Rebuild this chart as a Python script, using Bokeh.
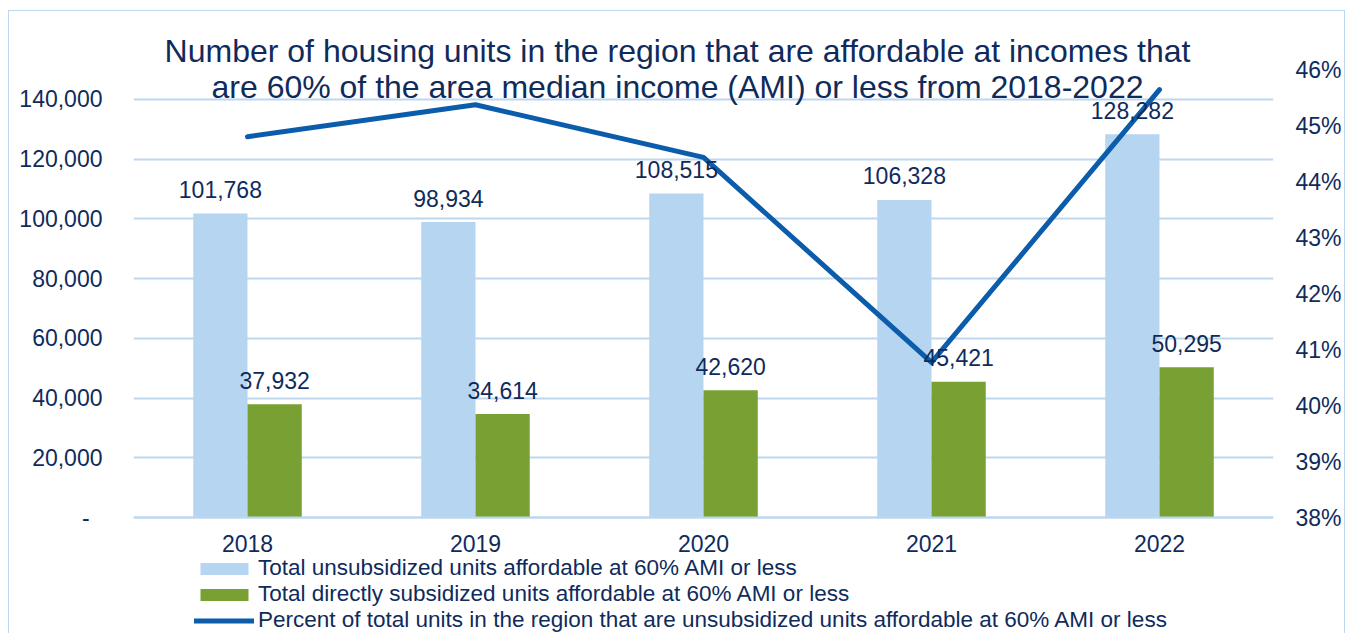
from bokeh.plotting import figure
from bokeh.models import (ColumnDataSource, FactorRange, Range1d, LinearAxis, CategoricalAxis,
                          FixedTicker, NumeralTickFormatter, PrintfTickFormatter, Legend,
                          LegendItem, Label)
from bokeh.transform import dodge
from bokeh.core.properties import value
from bokeh.embed import file_html
from bokeh.resources import INLINE

# ---- data ----
years = ["2018", "2019", "2020", "2021", "2022"]
unsubsidized = [101768, 98934, 108515, 106328, 128282]
subsidized = [37932, 34614, 42620, 45421, 50295]
pct_unsubsidized = [44.80, 45.37, 44.43, 40.77, 45.64]
left_ticks = [0, 20000, 40000, 60000, 80000, 100000, 120000, 140000]
right_ticks = [38, 39, 40, 41, 42, 43, 44, 45, 46]
title_lines = ["Number of housing units in the region that are affordable at incomes that",
               "are 60% of the area median income (AMI) or less from 2018-2022"]
legend_labels = ["Total unsubsidized units affordable at 60% AMI or less",
                 "Total directly subsidized units affordable at 60% AMI or less",
                 "Percent of total units in the region that are unsubsidized units affordable at 60% AMI or less"]

FONT = "Liberation Sans"
TXT = "#0F2B5B"
GRID = "#BDD7EE"
BLUE_BAR = "#B6D5F1"
GREEN_BAR = "#78A033"
LINE = "#0B5CAB"

# ---- layout geometry (page pixels) ----
MARGIN_LEFT, MARGIN_TOP = 9, 11
W_FIG, H_FIG = 1335, 622
PLOT_LEFT, PLOT_RIGHT = 133, 1273          # Excel plot area, page x
Y_ZERO, Y_TOP = 517, 69                    # page y of axis minimum and maximum
L_MAX, R_MIN, R_MAX = 150000, 38, 46       # axis extents of the Excel plot area
px = (Y_ZERO - Y_TOP)
canvas_top, canvas_bot = MARGIN_TOP, MARGIN_TOP + H_FIG

def left_val(page_y):
    return (Y_ZERO - page_y) / px * L_MAX

def right_val(page_y):
    return R_MIN + (Y_ZERO - page_y) / px * (R_MAX - R_MIN)

src = ColumnDataSource(dict(
    year=years,
    unsub=unsubsidized,
    sub=subsidized,
    pct=pct_unsubsidized,
    unsub_lbl=[f"{v:,}" for v in unsubsidized],
    sub_lbl=[f"{v:,}" for v in subsidized],
))

p = figure(width=W_FIG, height=H_FIG, x_range=FactorRange(*years),
           y_range=Range1d(left_val(canvas_bot), left_val(canvas_top)),
           x_axis_location=None,
           output_backend="svg", toolbar_location=None,
           min_border_left=PLOT_LEFT - MARGIN_LEFT,
           min_border_right=MARGIN_LEFT + W_FIG - PLOT_RIGHT,
           min_border_top=0, min_border_bottom=0)
p.extra_y_ranges = {"pct": Range1d(right_val(canvas_bot), right_val(canvas_top))}
p.outline_line_color = None
p.background_fill_color = "white"
p.border_fill_color = "white"
p.styles = {"outline": "1.5px solid #BDD7EE",
            "margin-left": f"{MARGIN_LEFT}px", "margin-top": f"{MARGIN_TOP}px"}

BW = 0.238
r_unsub = p.vbar(x=dodge("year", -0.119, range=p.x_range), top="unsub", width=BW, source=src,
                 fill_color=BLUE_BAR, line_color=None)
r_sub = p.vbar(x=dodge("year", 0.119, range=p.x_range), top="sub", width=BW, source=src,
               fill_color=GREEN_BAR, line_color=None)

r_line = p.line(x="year", y="pct", source=src, y_range_name="pct",
                line_color=LINE, line_width=5, line_cap="round", line_join="round")

p.text(x=dodge("year", -0.119, range=p.x_range), y="unsub", text="unsub_lbl", source=src,
       text_font=value(FONT), text_font_size="23px", text_color=TXT,
       text_align="center", text_baseline="alphabetic", y_offset=-24)
p.text(x=dodge("year", 0.119, range=p.x_range), y="sub", text="sub_lbl", source=src,
       text_font=value(FONT), text_font_size="23px", text_color=TXT,
       text_align="center", text_baseline="alphabetic", y_offset=-24)

# left axis
p.yaxis.ticker = FixedTicker(ticks=left_ticks)
p.yaxis.formatter = NumeralTickFormatter(format="0,0")
p.yaxis.major_label_overrides = {0: "-\u00a0\u00a0"}
p.yaxis.axis_line_color = None
p.yaxis.major_tick_line_color = None
p.yaxis.major_tick_out = 0
p.yaxis.minor_tick_line_color = None
p.yaxis.major_label_standoff = 31
p.yaxis.major_label_text_font = FONT
p.yaxis.major_label_text_font_size = "23px"
p.yaxis.major_label_text_color = TXT

# right axis
raxis = LinearAxis(y_range_name="pct", ticker=FixedTicker(ticks=right_ticks),
                   formatter=PrintfTickFormatter(format="%d%%"))
raxis.axis_line_color = None
raxis.major_tick_line_color = None
raxis.major_tick_out = 0
raxis.minor_tick_line_color = None
raxis.major_label_standoff = 22
raxis.major_label_text_font = FONT
raxis.major_label_text_font_size = "23px"
raxis.major_label_text_color = TXT
p.add_layout(raxis, "right")

# category axis drawn at value 0
xaxis = CategoricalAxis(fixed_location=0)
xaxis.axis_line_color = GRID
xaxis.axis_line_width = 2
xaxis.major_tick_line_color = None
xaxis.major_tick_out = 0
xaxis.minor_tick_line_color = None
xaxis.major_label_standoff = 17
xaxis.major_label_text_font = FONT
xaxis.major_label_text_font_size = "23px"
xaxis.major_label_text_color = TXT
p.add_layout(xaxis, "below")

p.xgrid.grid_line_color = None
p.ygrid.ticker = FixedTicker(ticks=left_ticks)
p.ygrid.grid_line_color = GRID
p.ygrid.grid_line_width = 2

# title (overlaps plot area as in original); x=2.5 is the centre of the factor range
for txt, base_y in zip(title_lines, [50, 86]):
    p.add_layout(Label(x=2.5, y=right_val(base_y), y_range_name="pct", text=txt, x_offset=-26,
                       text_align="center", text_baseline="alphabetic", text_font=FONT,
                       text_font_size="32px", text_color=TXT))

# legend: one row per entry so that row spacing matches the original
for lbl, rend, row_y in zip(legend_labels, [r_unsub, r_sub, r_line], [50, 24, -2]):
    lg = Legend(items=[LegendItem(label=lbl, renderers=[rend])],
                location=(61, row_y), orientation="vertical",
                background_fill_alpha=0, border_line_color=None,
                padding=0, margin=0, spacing=0,
                glyph_width=60, glyph_height=15, label_standoff=4, label_height=30,
                label_text_font=FONT, label_text_font_size="22.5px", label_text_color=TXT)
    p.add_layout(lg, "center")

open("out.html", "w").write(file_html(p, INLINE))
